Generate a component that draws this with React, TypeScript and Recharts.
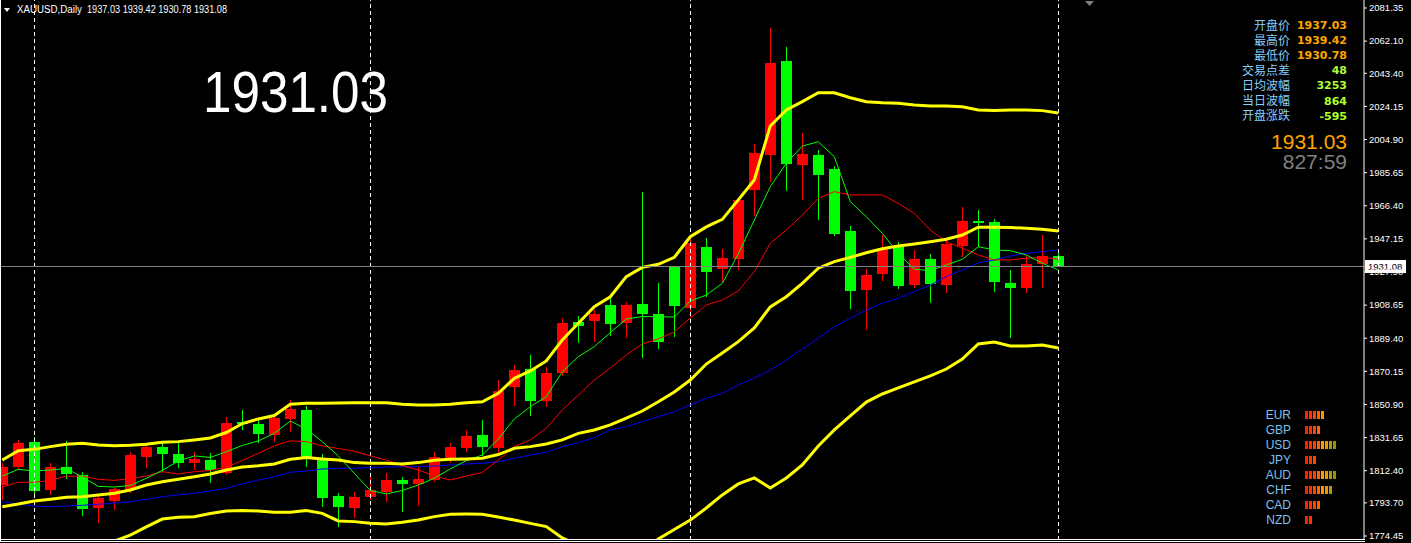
import React from 'react';
import { ComposedChart, Bar, Line, XAxis, YAxis, ReferenceLine } from 'recharts';

// ---- Daily candles (XAUUSD) ----
const opens = [1804.1, 1814.7, 1829.1, 1801.2, 1814.7, 1809.9, 1790.9, 1794.8, 1801.2, 1820.5,
  1826.4, 1822.1, 1817.1, 1818.6, 1811.2, 1840.9, 1839.6, 1833.2, 1842.5, 1847.7,
  1819.6, 1797.7, 1790.6, 1797.3, 1800.2, 1807.0, 1804.8, 1807.0, 1820.0, 1825.4,
  1833.2, 1825.8, 1861.2, 1871.5, 1853.1, 1869.4, 1898.7, 1899.6, 1908.7, 1898.4,
  1909.3, 1903.5, 1930.6, 1907.2, 1942.3, 1929.5, 1935.7, 1975.7, 1995.9, 2050.5,
  1990.1, 1995.9, 1987.8, 1951.7, 1917.4, 1926.7, 1943.2, 1920.3, 1935.5, 1920.3,
  1943.2, 1957.5, 1957.0, 1921.7, 1918.8, 1932.7, 1937.03];
const highs = [1816.9, 1830.3, 1831.8, 1816.7, 1829.7, 1811.8, 1798.7, 1802.2, 1823.4, 1828.3,
  1828.3, 1829.3, 1823.4, 1822.9, 1843.8, 1847.7, 1841.9, 1843.8, 1853.5, 1850.0,
  1821.9, 1799.3, 1799.8, 1808.9, 1810.9, 1808.9, 1814.7, 1823.1, 1828.3, 1836.1,
  1841.9, 1865.1, 1873.8, 1879.7, 1872.5, 1901.0, 1902.3, 1905.8, 1913.5, 1910.3,
  1974.2, 1921.3, 1931.0, 1949.4, 1947.5, 1941.3, 1970.3, 2002.3, 2069.7, 2058.5,
  2008.5, 1998.8, 1989.5, 1954.6, 1929.5, 1949.4, 1945.5, 1940.7, 1938.4, 1947.5,
  1965.5, 1963.9, 1958.5, 1929.1, 1937.0, 1949.4, 1939.42];
const lows = [1795.4, 1812.8, 1797.9, 1798.3, 1807.6, 1786.2, 1782.2, 1789.6, 1799.3, 1814.1,
  1811.8, 1813.8, 1812.8, 1805.4, 1809.9, 1835.9, 1828.3, 1829.3, 1834.7, 1814.7,
  1791.5, 1779.9, 1785.1, 1795.4, 1794.0, 1788.6, 1792.1, 1806.0, 1816.7, 1823.4,
  1821.1, 1822.1, 1850.0, 1844.2, 1849.6, 1867.5, 1886.5, 1887.4, 1890.9, 1889.4,
  1877.7, 1883.0, 1890.3, 1901.9, 1913.5, 1921.8, 1929.2, 1960.6, 1980.4, 1975.2,
  1969.8, 1958.1, 1949.0, 1906.4, 1894.2, 1922.8, 1917.8, 1918.4, 1910.1, 1915.5,
  1936.8, 1942.6, 1916.5, 1889.7, 1915.5, 1918.8, 1930.78];
const closes = [1814.6, 1828.7, 1800.8, 1814.7, 1810.3, 1790.1, 1796.7, 1801.8, 1821.5, 1826.4,
  1822.1, 1817.1, 1819.2, 1812.8, 1840.3, 1839.4, 1833.7, 1843.2, 1848.3, 1819.6,
  1796.7, 1791.5, 1796.9, 1801.2, 1807.0, 1804.5, 1807.6, 1820.2, 1826.4, 1832.4,
  1826.4, 1858.9, 1870.9, 1853.1, 1869.2, 1898.3, 1896.7, 1903.3, 1897.7, 1908.7,
  1903.5, 1887.4, 1908.3, 1944.9, 1928.1, 1935.9, 1969.8, 1996.9, 2049.4, 1990.7,
  1996.5, 1984.3, 1950.0, 1917.0, 1926.2, 1941.4, 1919.9, 1935.5, 1920.8, 1944.2,
  1957.5, 1956.6, 1922.3, 1918.8, 1932.6, 1937.2, 1931.08];

// ---- Indicators ----
const bbUpper = [1818.6, 1824.0, 1824.8, 1826.4, 1827.8, 1828.3, 1827.3, 1826.9, 1827.2, 1827.8,
  1828.9, 1829.3, 1830.3, 1831.4, 1834.6, 1839.8, 1842.5, 1844.5, 1851.0, 1851.6,
  1851.6, 1851.8, 1851.9, 1851.9, 1851.9, 1851.0, 1850.6, 1850.6, 1851.0, 1851.9,
  1852.5, 1857.4, 1866.1, 1870.4, 1876.2, 1888.4, 1898.1, 1907.7, 1913.5, 1925.2,
  1930.6, 1932.4, 1936.4, 1948.4, 1954.1, 1958.5, 1969.8, 1981.4, 2012.8, 2022.1,
  2026.9, 2032.1, 2032.1, 2029.2, 2026.9, 2026.3, 2026.0, 2025.0, 2024.4, 2024.4,
  2024.0, 2022.1, 2021.7, 2022.1, 2022.1, 2021.7, 2020.3];
const bbMiddle = [1791.5, 1793.0, 1794.8, 1795.8, 1796.9, 1797.3, 1798.3, 1799.3, 1801.2, 1804.1,
  1806.0, 1807.4, 1808.9, 1810.5, 1812.8, 1814.6, 1815.3, 1816.3, 1819.0, 1820.0,
  1819.2, 1818.6, 1817.1, 1816.7, 1816.7, 1816.3, 1817.1, 1818.5, 1819.0, 1819.2,
  1819.6, 1821.8, 1825.4, 1826.4, 1827.9, 1830.3, 1834.1, 1836.1, 1839.0, 1842.9,
  1847.1, 1852.5, 1858.2, 1865.1, 1874.4, 1880.8, 1887.4, 1895.4, 1907.6, 1913.5,
  1921.3, 1930.1, 1933.9, 1936.4, 1939.1, 1941.4, 1943.0, 1944.2, 1945.5, 1946.9,
  1949.4, 1953.9, 1953.9, 1953.7, 1953.3, 1952.7, 1951.7];
const bbLower = [1764.6, 1762.2, 1764.6, 1765.1, 1766.3, 1766.3, 1769.2, 1771.5, 1775.0, 1779.7,
  1784.3, 1785.3, 1785.7, 1787.5, 1789.0, 1789.2, 1789.0, 1788.2, 1788.2, 1789.2,
  1787.6, 1783.2, 1782.8, 1781.8, 1781.4, 1782.4, 1783.7, 1785.7, 1787.1, 1787.2,
  1787.1, 1785.5, 1783.7, 1781.8, 1779.9, 1773.3, 1769.2, 1764.6, 1764.6, 1760.5,
  1762.8, 1772.7, 1778.2, 1783.7, 1790.7, 1798.3, 1804.7, 1808.2, 1802.4, 1808.2,
  1815.7, 1826.8, 1836.1, 1844.2, 1852.3, 1857.0, 1860.5, 1864.0, 1867.5, 1871.5,
  1877.3, 1886.1, 1887.2, 1884.9, 1884.9, 1885.5, 1883.7];
const ma5 = [1809.3, 1813.2, 1812.2, 1812.8, 1813.7, 1808.7, 1803.3, 1802.9, 1803.8, 1808.0,
  1812.6, 1818.0, 1821.0, 1820.1, 1823.4, 1827.1, 1829.7, 1834.1, 1841.3, 1836.6,
  1829.3, 1821.0, 1810.9, 1800.9, 1798.9, 1800.9, 1804.1, 1808.0, 1813.4, 1818.3,
  1821.5, 1830.8, 1842.5, 1849.6, 1855.4, 1869.9, 1878.7, 1884.5, 1892.7, 1900.6,
  1902.0, 1901.9, 1901.7, 1911.0, 1914.5, 1921.3, 1938.4, 1958.1, 1977.5, 1991.1,
  2001.1, 2003.6, 1994.9, 1968.8, 1960.0, 1950.4, 1938.8, 1929.5, 1928.7, 1932.0,
  1935.3, 1942.6, 1940.7, 1940.3, 1937.8, 1933.0, 1929.1];
const ma10 = [1802.9, 1805.7, 1805.7, 1806.7, 1809.3, 1809.2, 1807.4, 1806.8, 1807.7, 1809.3,
  1811.8, 1810.5, 1811.8, 1812.5, 1814.6, 1818.3, 1822.5, 1826.8, 1829.8, 1829.3,
  1826.8, 1825.3, 1823.7, 1821.0, 1818.6, 1815.4, 1812.8, 1809.3, 1807.0, 1809.3,
  1811.4, 1818.6, 1826.4, 1830.3, 1837.1, 1847.7, 1856.4, 1865.1, 1872.1, 1879.7,
  1886.1, 1889.0, 1893.0, 1901.2, 1908.7, 1911.6, 1916.9, 1928.1, 1944.6, 1952.3,
  1961.0, 1970.7, 1974.6, 1972.7, 1972.7, 1972.7, 1967.8, 1962.0, 1952.3, 1945.5,
  1941.7, 1937.8, 1934.9, 1934.9, 1935.9, 1936.4, 1935.3];
const maSlow = [1794.4, 1793.0, 1791.9, 1791.5, 1791.9, 1792.3, 1792.9, 1793.5, 1794.4, 1795.8,
  1797.3, 1798.3, 1799.3, 1800.6, 1802.2, 1804.7, 1807.0, 1808.9, 1811.5, 1812.2,
  1813.4, 1813.8, 1813.8, 1814.2, 1814.6, 1814.7, 1814.7, 1815.1, 1815.7, 1816.3,
  1816.7, 1817.6, 1819.6, 1821.5, 1823.1, 1826.4, 1828.7, 1831.6, 1836.1, 1838.0,
  1840.9, 1843.8, 1846.7, 1850.6, 1854.5, 1857.4, 1862.2, 1866.3, 1870.9, 1876.8,
  1883.1, 1889.5, 1895.9, 1901.2, 1905.8, 1909.7, 1912.6, 1916.5, 1920.3, 1925.2,
  1929.1, 1933.3, 1934.9, 1937.2, 1938.8, 1939.7, 1940.7];

// ---- Axis / annotations ----
const yTicks = [2081.35, 2062.10, 2043.40, 2024.15, 2004.90, 1985.65, 1966.40, 1947.15, 1927.90,
  1908.65, 1889.40, 1870.15, 1850.90, 1831.65, 1812.40, 1793.70, 1774.45];
const yDomain = [1772.12, 2086.0];
const separatorBars = [2, 23, 43, 66];
const bidPrice = 1931.08;
const bigPrice = '1931.03';
const timer = '827:59';
const symbolTitle = 'XAUUSD,Daily';

const panelLabels = ['开盘价', '最高价', '最低价', '交易点差', '日均波幅', '当日波幅', '开盘涨跌'];
const panelExtra = ['48', '3253', '864', '-595'];

const currencies = ['EUR', 'GBP', 'USD', 'JPY', 'AUD', 'CHF', 'CAD', 'NZD'];
const strengths = [5, 4, 8, 3, 8, 7, 4, 2];
const strengthColors = ['#ff2200', '#ff3300', '#ff4400', '#ff6200', '#ff9600', '#e69a00', '#b79400', '#8a9a00'];

const rows = opens.map((o, i) => ({
  i,
  range: [lows[i], highs[i]],
  open: o,
  high: highs[i],
  low: lows[i],
  close: closes[i],
  bbUpper: bbUpper[i],
  bbMiddle: bbMiddle[i],
  bbLower: bbLower[i],
  ma5: ma5[i],
  ma10: ma10[i],
  maSlow: maSlow[i],
}));

const last = rows.length - 1;

const Candle = (props: any) => {
  const { x, y, width, height, payload } = props;
  if (!payload || height == null || y == null) return null;
  const { open, close, high, low } = payload;
  const ratio = high > low ? height / (high - low) : 0;
  const yOf = (v: number) => y + (high - v) * ratio;
  const up = close >= open;
  const color = up ? '#ff0000' : '#00ff00';
  const bx = Math.round(x);
  const bw = Math.round(width);
  const cx = bx + Math.floor(bw / 2) + 0.5;
  const top = Math.round(yOf(Math.max(open, close)));
  const bot = Math.round(yOf(Math.min(open, close)));
  return (
    <g>
      <line x1={cx} x2={cx} y1={Math.round(y)} y2={Math.round(y + height)} stroke={color} strokeWidth={1} shapeRendering="crispEdges" />
      <rect x={bx} y={top} width={bw} height={Math.max(1, bot - top)} fill={color} shapeRendering="crispEdges" />
    </g>
  );
};

const BidLabel = (props: any) => {
  const vb = props.viewBox;
  if (!vb) return null;
  const xr = vb.x + vb.width;
  const yc = vb.y;
  return (
    <g>
      <rect x={xr + 1} y={yc - 6.5} width={41} height={13} fill="#ffffff" />
      <text x={xr + 4} y={yc + 3.5} fontSize={9.5} fontFamily="Liberation Sans" fill="#000000">
        {bidPrice.toFixed(2)}
      </text>
    </g>
  );
};

export default function App() {
  const title = [opens[last], highs[last], lows[last], closes[last]].map((v) => v.toFixed(2)).join(' ');
  const panelValues = [opens[last].toFixed(2), highs[last].toFixed(2), lows[last].toFixed(2), ...panelExtra];
  const labelFont = 'Liberation Sans, DejaVu Sans, sans-serif';
  return (
    <div style={{ position: 'absolute', left: 0, top: 0, width: 1411, height: 543, background: '#000000', overflow: 'hidden' }}>
      <ComposedChart width={1411} height={543} data={rows} margin={{ top: 0, right: 0, bottom: 3, left: -5.7 }}>
        <XAxis dataKey="i" type="category" hide padding={{ left: 0, right: 297.7 }} />
        {separatorBars.map((b) => (
          <ReferenceLine key={b} x={b} stroke="#ffffff" strokeDasharray="4 3" shapeRendering="crispEdges" />
        ))}
        <Bar dataKey="range" barSize={11} shape={Candle} isAnimationActive={false} />
        <Line dataKey="maSlow" stroke="#0000ff" strokeWidth={1} dot={false} activeDot={false} isAnimationActive={false} />
        <Line dataKey="ma10" stroke="#ff0000" strokeWidth={1} dot={false} activeDot={false} isAnimationActive={false} />
        <Line dataKey="ma5" stroke="#00ff00" strokeWidth={1} dot={false} activeDot={false} isAnimationActive={false} />
        <Line dataKey="bbUpper" stroke="#ffff00" strokeWidth={3} dot={false} activeDot={false} isAnimationActive={false} />
        <Line dataKey="bbMiddle" stroke="#ffff00" strokeWidth={3} dot={false} activeDot={false} isAnimationActive={false} />
        <Line dataKey="bbLower" stroke="#ffff00" strokeWidth={3} dot={false} activeDot={false} isAnimationActive={false} />
        <YAxis
          orientation="right"
          type="number"
          width={47}
          domain={yDomain}
          allowDataOverflow
          ticks={yTicks}
          interval={0}
          tickFormatter={(v: number) => v.toFixed(2)}
          axisLine={{ stroke: '#ffffff' }}
          tickLine={{ stroke: '#ffffff' }}
          tickSize={3}
          tickMargin={2}
          tick={{ fill: '#ffffff', fontSize: 9.5, fontFamily: 'Liberation Sans' }}
        />
        <ReferenceLine y={bidPrice} stroke="#808080" shapeRendering="crispEdges" label={<BidLabel />} />
      </ComposedChart>
      <svg width={1411} height={543} style={{ position: 'absolute', left: 0, top: 0, pointerEvents: 'none' }}>
        {/* frame */}
        <line x1={0.5} x2={0.5} y1={0} y2={541} stroke="#ffffff" strokeWidth={1} />
        <line x1={0} x2={1365} y1={539.5} y2={539.5} stroke="#ffffff" strokeWidth={1} />
        <line x1={0} x2={1365} y1={541.5} y2={541.5} stroke="#ffffff" strokeWidth={1} />
        {/* chart shift marker */}
        <polygon points="1085,1 1094,1 1089.5,6" fill="#808080" />
        {/* title */}
        <polygon points="4,8 10,8 7,12" fill="#ffffff" />
        <text x={17} y={13} fontSize={10} fill="#ffffff" fontFamily={labelFont} textLength={65} lengthAdjust="spacingAndGlyphs">{symbolTitle}</text>
        <text x={87} y={13} fontSize={10} fill="#ffffff" fontFamily={labelFont} textLength={140} lengthAdjust="spacingAndGlyphs">{title}</text>
        {/* big price */}
        <text x={203} y={112} fontSize={58} fill="#ffffff" fontFamily={labelFont} textLength={185} lengthAdjust="spacingAndGlyphs">{bigPrice}</text>
        {/* info panel */}
        {panelLabels.map((lab, i) => (
          <g key={lab}>
            <text x={1290} y={29.5 + i * 15.1} textAnchor="end" fontSize={12} fill="#87cefa" fontFamily="Noto Sans CJK SC">{lab}</text>
            <text x={1347} y={29 + i * 15.1} textAnchor="end" fontSize={11} fontWeight="bold" fill={i < 3 ? '#ffa500' : '#adff2f'} fontFamily="DejaVu Sans">{panelValues[i]}</text>
          </g>
        ))}
        <text x={1347} y={149} textAnchor="end" fontSize={21} fill="#ffa500" fontFamily={labelFont}>{bigPrice}</text>
        <text x={1347} y={169} textAnchor="end" fontSize={21} fill="#808080" fontFamily={labelFont}>{timer}</text>
        {/* currency strength */}
        {currencies.map((c, i) => (
          <g key={c}>
            <text x={1291} y={419.3 + i * 15} textAnchor="end" fontSize={12} fill="#7ec0ee" fontFamily={labelFont}>{c}</text>
            {Array.from({ length: strengths[i] }).map((_, j) => (
              <rect key={j} x={1305 + j * 4} y={411 + i * 15} width={3} height={8} fill={strengthColors[j]} />
            ))}
          </g>
        ))}
      </svg>
    </div>
  );
}
